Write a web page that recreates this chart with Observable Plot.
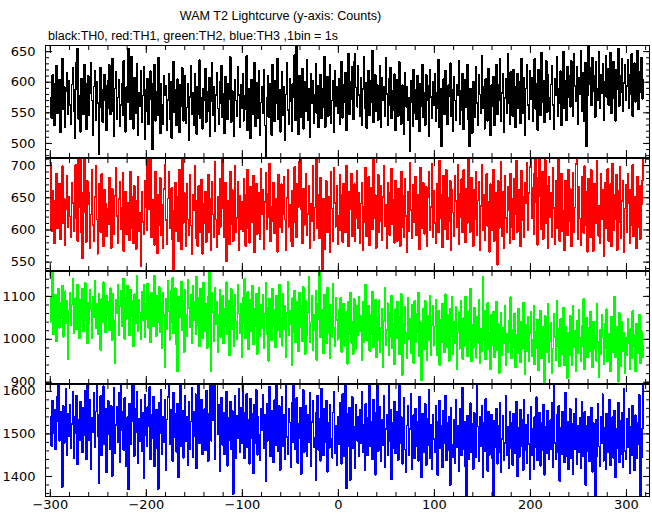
<!DOCTYPE html>
<html><head><meta charset="utf-8">
<script src="https://cdn.jsdelivr.net/npm/d3@7"></script>
<script src="https://cdn.jsdelivr.net/npm/@observablehq/plot@0.6"></script>
<style>
html,body{margin:0;padding:0;background:#fff;}
#wrap{position:relative;width:652px;height:515px;overflow:hidden;background:#fff;}
#title{position:absolute;left:80px;width:401px;top:10px;text-align:center;font-family:"Liberation Sans",Arial,sans-serif;font-size:12.6px;line-height:12.6px;color:#000;white-space:nowrap;}
#subtitle{position:absolute;left:48px;top:29.5px;font-family:"Liberation Sans",Arial,sans-serif;font-size:12.5px;line-height:12.5px;color:#000;white-space:nowrap;}
#panels{position:absolute;left:0;top:45px;width:652px;}
#panels svg{display:block;position:absolute;left:0;background:none!important;overflow:visible!important;}
</style></head>
<body><div id="wrap">
<div id="title">WAM T2 Lightcurve (y-axis: Counts)</div>
<div id="subtitle">black:TH0, red:TH1, green:TH2, blue:TH3 ,1bin = 1s</div>
<div id="panels"></div>
</div>
<script>
// time of the first 1-s bin
const startTime = -300;

// TH0 (black) counts per 1-s bin
const th0 = [
575,541,612,598,530,566,627,549,583,604,518,571,639,556,592,527,585,615,548,602,
563,531,596,624,552,509,588,633,655,540,577,519,606,584,548,629,561,523,597,610,
546,582,631,570,514,593,618,538,601,566,482,559,624,587,535,571,612,594,521,558,
603,628,547,581,639,553,512,590,617,539,575,604,528,563,598,546,635,580,519,592,
567,655,611,539,642,586,524,608,573,549,630,514,583,561,619,535,578,626,507,588,
552,606,531,572,618,597,490,565,629,537,584,546,640,575,516,597,563,532,611,579,
594,522,571,613,540,601,509,568,634,551,587,529,605,568,518,596,561,623,537,580,
610,533,559,598,505,576,627,547,583,530,614,562,515,593,548,636,541,575,524,589,
571,622,535,584,553,608,511,569,631,546,592,520,579,615,557,532,601,566,627,543,
581,516,609,568,539,597,573,641,535,586,552,512,604,570,544,625,579,527,596,558,
614,537,578,556,643,521,590,566,509,604,547,583,632,528,572,599,541,618,513,567,
592,550,621,529,479,575,611,543,597,560,514,628,581,536,602,565,638,540,588,519,
571,617,546,593,506,580,632,555,532,606,569,520,597,576,644,538,665,561,515,610,
585,543,622,524,577,601,552,637,538,589,510,614,566,603,533,579,630,549,594,526,
573,612,541,590,559,642,527,581,609,545,586,628,533,570,603,519,618,561,593,549,
605,531,578,634,542,596,567,615,522,584,646,548,601,573,625,539,634,647,591,560,
627,579,544,608,530,589,641,557,599,525,575,619,546,603,568,652,535,584,612,553,
596,538,574,627,526,607,570,592,544,640,581,529,605,563,624,541,586,555,613,521,
578,604,545,633,569,532,595,582,515,616,560,593,538,574,487,602,567,528,621,550,
587,539,611,572,520,598,561,629,543,583,530,612,571,594,512,620,576,542,600,563,
614,537,582,558,637,526,590,495,574,605,548,619,569,531,595,577,631,545,587,520,
609,570,538,596,579,635,532,586,554,614,523,575,604,559,628,540,495,590,563,517,
601,576,543,626,566,529,612,580,549,643,558,593,524,605,571,537,622,578,513,595,
561,609,530,585,629,547,596,570,638,536,582,613,518,574,606,550,647,566,532,617,
577,545,621,592,526,571,614,558,601,533,639,581,550,607,514,590,628,563,539,619,
572,608,537,583,638,556,597,522,620,579,546,648,567,603,534,588,635,551,612,574,
540,596,627,563,524,606,579,641,545,590,566,618,530,583,650,557,603,538,626,575,
611,560,635,588,544,646,594,569,625,531,607,580,652,553,615,589,536,632,495,578,
665,597,624,562,640,585,611,543,633,590,570,649,557,612,582,630,538,601,643,576,
622,563,598,648,549,606,634,574,537,620,589,655,561,611,583,639,552,599,628,570,
594,637,558,612,580,646,545,603,631,568,590,652,556,617,584,640,573,605
];

// TH1 (red)
const th1 = [
705,598,661,627,579,646,688,603,637,672,585,620,699,611,648,576,633,684,604,652,
621,589,673,642,598,667,701,617,583,718,635,715,596,556,658,712,628,581,676,640,
657,571,624,694,608,583,651,699,616,563,640,672,597,687,625,574,662,641,590,633,
609,681,645,572,664,618,594,653,697,622,579,648,675,601,634,689,567,628,660,593,
642,617,584,691,603,651,579,668,625,570,646,683,598,627,543,659,612,594,677,636,
600,716,632,675,714,588,647,619,577,690,626,564,655,608,681,592,639,571,664,702,
615,578,649,690,603,637,665,584,535,630,674,598,652,582,693,622,570,715,611,658,
639,574,671,616,592,685,607,562,654,630,699,587,645,575,668,623,596,678,563,641,
610,660,581,633,686,597,648,569,675,624,588,706,616,573,652,594,680,605,638,716,
634,589,673,551,646,621,578,691,609,662,583,637,700,596,619,675,568,653,601,644,
598,679,622,575,656,694,603,580,667,631,612,684,565,640,672,593,627,658,586,695,
625,662,570,643,689,601,619,657,703,582,636,614,673,595,648,609,566,686,631,604,
671,597,624,682,616,568,650,693,605,639,582,661,574,627,698,611,589,672,636,706,
716,632,579,664,608,647,687,592,625,668,571,640,613,699,584,635,678,714,602,655,
587,681,614,535,648,570,627,676,596,652,619,566,690,633,583,697,642,605,668,578,
622,685,599,654,581,672,628,596,700,615,575,659,632,688,590,645,671,583,618,692,
603,657,579,641,674,568,636,612,697,590,649,682,576,624,665,601,709,618,654,572,
628,686,597,613,668,584,651,700,606,639,571,674,620,592,659,695,609,647,580,677,
616,583,664,640,575,691,605,653,588,679,622,566,660,598,704,631,587,670,612,648,
683,592,655,621,570,697,603,645,673,594,628,667,574,651,690,599,636,702,588,661,
611,579,672,637,596,708,618,655,573,684,640,601,693,585,650,613,676,569,662,627,
590,684,645,604,701,578,656,620,679,596,693,633,581,664,611,717,648,597,681,623,
575,662,617,690,592,646,675,568,637,701,600,655,584,628,687,606,644,566,671,599,
640,694,583,622,658,546,676,603,641,706,590,660,572,684,619,597,667,631,579,688,
604,648,585,679,625,708,597,663,636,574,692,615,652,588,673,641,704,599,657,698,
714,618,666,593,689,718,642,577,681,713,652,601,690,586,638,709,611,668,572,683,
620,657,589,697,634,578,676,602,651,710,583,646,688,598,630,569,677,640,592,694,
613,664,574,649,689,597,635,702,716,585,667,618,576,682,628,595,699,607,660,566,
679,622,588,693,641,567,672,610,655,708,591,637,580,687,616,663,559,674,603,648,
695,583,639,671,575,703,600,654,617,686,569,661,612,698,587,645,676,566,633,670,
597,688,642,579,663,608,701,590,651,625,572,683,604,669,586,640,677,712
];

// TH2 (green)
const th2 = [
1041,1098,1160,1012,1075,1103,996,1062,1118,1027,1084,1049,1125,1006,1071,1112,1038,1090,954,1067,
1109,1032,1081,1140,1015,1058,1097,1023,1128,1064,1002,1093,1046,1117,1019,1079,1131,1044,990,1086,
1035,1115,1070,1003,1099,1052,1136,1025,1083,1011,1106,1058,975,1094,1040,1133,1068,1017,1101,1055,
1088,1021,1119,1065,998,1107,1043,945,1092,1060,1128,1009,1077,1114,1030,1069,1142,1000,1096,1048,
1124,1071,1010,1116,1054,1089,984,1105,1036,1078,1147,1019,1093,1062,1001,1111,1044,1127,1005,1082,
1047,1130,1026,1098,993,1108,1063,1031,1149,1072,1008,1101,1039,1122,1017,1085,979,1109,1056,934,
1095,1024,1137,1066,999,1112,1040,1143,1014,1081,1119,988,925,1100,1050,1076,1134,1021,1090,970,
1116,1058,1007,1139,1073,1029,1104,991,1125,1045,1087,1012,1146,1034,1096,983,1118,1061,1002,1131,
1018,1084,1052,980,1099,1160,1029,925,1108,1064,996,1121,1035,1087,970,1058,1115,1006,1049,1101,
991,1070,1031,1133,1012,1089,962,1054,1117,1023,1079,984,1104,1041,1000,1126,1060,1015,1083,958,
1097,1037,1141,1002,1066,1110,977,1048,1093,1019,1124,989,1072,1030,1107,966,1056,1119,1008,1081,
1026,1103,979,1059,1132,1013,1074,950,1095,1042,997,1118,1033,1068,982,1101,1020,1085,1128,1004,
1050,985,1106,1023,1079,958,1061,1135,1010,1067,1036,940,1097,1016,1114,993,1052,1088,972,1109,
1028,1077,995,1122,1044,966,1090,1009,1063,1145,994,1039,1101,975,1058,1021,1113,952,1047,1084,
1160,1005,1069,1031,968,1104,1037,990,1120,1014,1081,955,1052,1006,1130,1027,983,1096,1045,999,
1068,1004,1097,970,1046,1083,985,1029,1064,943,1088,1011,1109,992,1041,966,1095,1032,978,1077,
1009,1100,1019,1055,951,1087,994,1040,1128,997,1031,1079,973,1058,1012,1110,982,1036,1093,958,
1050,999,1091,970,1027,1072,936,1043,1119,987,1021,1084,962,1061,1006,1102,979,1037,942,1070,
1003,1088,1022,965,1052,1106,917,1035,990,1075,1014,956,1097,1001,1048,968,1080,1025,945,1089,
994,1059,1016,1108,960,1040,904,1001,1071,976,1090,1019,951,1054,997,1102,963,1033,1079,985,
1030,1093,962,1011,1067,940,1045,993,1083,1018,970,1105,1026,981,1058,949,1072,1007,1098,966,
1041,990,1076,931,1016,1063,978,1089,1002,954,1049,985,1099,1012,961,1065,997,1118,948,1034,
980,1074,1005,957,1052,992,1091,944,1025,971,1145,999,1066,953,1039,1085,976,1014,930,1058,
986,1065,958,1019,1088,975,1036,921,1003,1061,962,1027,990,1077,939,1012,970,1044,996,1098,
955,1023,981,1059,934,1010,968,1072,993,946,1040,977,1086,1001,918,1033,972,1052,950,1015,
1063,960,1000,1079,941,1018,980,1046,928,1005,1067,955,1030,987,895,1054,969,1011,1082,947,
995,1038,922,979,1060,1006,951,1089,984,1025,937,1047,966,1002,1073,940,1030,976,910,1016,
962,1055,998,940,1078,981,1020,925,1044,967,1069,1003,948,1031,985,1094,930,1009,1051,958,
1026,971,1064,992,935,1041,977,1008,950,1083,994,912,1023,965,1057,1004,941,1035,980,1070,
948,1012,987,925,1052,969,1003,1099,958,1029,982,901,1061,996,938,1040,973,1016,920,1004,
963,1047,990,931,1024,955,1066,984,1011,926,1037,968,999,1058,944,1019,986,957
];

// TH3 (blue)
const th3 = [
1540,1472,1578,1501,1556,1463,1529,1587,1620,1484,1552,1510,1375,1566,1479,1538,1607,1451,1547,1495,
1568,1466,1523,1599,1443,1541,1502,1590,1428,1533,1485,1575,1514,1456,1561,1497,1601,1440,1620,1528,
1486,1580,1418,1537,1505,1596,1469,1553,1620,1494,1384,1546,1589,1449,1524,1612,1476,1560,1410,1531,
1577,1499,1464,1566,1401,1542,1608,1455,1521,1563,1480,1597,1434,1620,1508,1551,1462,1584,1493,1424,
1539,1369,1571,1476,1530,1615,1620,1448,1559,1503,1598,1431,1535,1482,1579,1459,1550,1395,1592,1498,
1471,1563,1517,1610,1440,1545,1490,1588,1423,1520,1556,1466,1371,1573,1502,1604,1452,1541,1481,1579,
1414,1534,1586,1620,1475,1557,1500,1436,1597,1493,1548,1458,1570,1398,1525,1613,1470,1555,1444,1518,
1589,1483,1540,1427,1576,1465,1529,1609,1446,1552,1494,1593,1419,1562,1620,1478,1536,1580,1452,1521,
1558,1461,1602,1497,1436,1547,1620,1484,1620,1532,1618,1441,1620,1617,1499,1568,1412,1530,1585,1474,
1549,1452,1520,1600,1425,1537,1486,1576,1463,1554,1358,1526,1589,1444,1543,1491,1606,1458,1561,1477,
1620,1503,1442,1551,1594,1469,1533,1430,1582,1490,1548,1407,1569,1478,1603,1451,1540,1497,1439,1560,
1509,1591,1466,1545,1388,1571,1484,1530,1611,1447,1555,1492,1433,1579,1474,1620,1538,1459,1566,1415,
1500,1587,1470,1546,1441,1614,1493,1453,1558,1527,1421,1573,1481,1620,1542,1463,1584,1432,1523,1489,
1562,1406,1531,1603,1457,1498,1566,1447,1545,1480,1596,1424,1528,1577,1468,1492,1391,1551,1590,1462,
1535,1437,1607,1495,1450,1559,1480,1578,1411,1526,1466,1569,1488,1444,1550,1598,1455,1520,1427,1541,
1475,1574,1529,1430,1594,1491,1448,1620,1373,1548,1471,1562,1392,1533,1587,1466,1517,1419,1568,1484,
1541,1447,1557,1478,1600,1458,1522,1415,1571,1487,1450,1538,1620,1471,1529,1440,1580,1483,1404,1549,
1620,1460,1519,1563,1435,1533,1474,1590,1422,1512,1545,1449,1620,1482,1556,1393,1527,1467,1575,1454,
1517,1553,1439,1617,1477,1540,1430,1524,1585,1463,1410,1520,1566,1451,1511,1595,1416,1480,1544,1442,
1559,1470,1528,1437,1588,1485,1399,1547,1457,1516,1570,1426,1535,1473,1603,1444,1521,1418,1546,1488,
1456,1565,1480,1403,1530,1578,1466,1518,1421,1555,1479,1589,1438,1525,1461,1541,1380,1562,1474,1445,
1532,1432,1580,1469,1520,1413,1558,1482,1449,1609,1463,1529,1424,1350,1543,1441,1512,1572,1457,1523,
1418,1549,1478,1446,1620,1517,1436,1540,1471,1566,1398,1526,1460,1583,1481,1413,1552,1451,1510,1545,
1443,1350,1531,1469,1560,1430,1520,1458,1573,1409,1488,1542,1439,1478,1590,1450,1516,1419,1553,1466,
1525,1427,1548,1455,1483,1576,1400,1514,1446,1557,1470,1532,1415,1581,1461,1521,1431,1545,1476,1394,
1564,1451,1512,1417,1539,1468,1586,1438,1480,1550,1425,1527,1462,1569,1404,1517,1454,1555,1474,1440,
1532,1465,1574,1422,1620,1478,1441,1545,1457,1565,1389,1515,1452,1553,1472,1434,1597,1447,1528,1416,
1481,1559,1442,1524,1406,1547,1463,1582,1428,1519,1456,1538,1420,1576,1473,1447,1551,1380,1518,1459,
1540,1436,1476,1562,1411,1526,1465,1350,1533,1448,1570,1470,1425,1539,1478,1593,1437,1515,1417,1548,
1457,1522,1581,1426,1475,1539,1444,1555,1398,1512,1467,1574,1433,1530,1452,1549,1422,1607,1460,1440,
1535,1468,1558,1407,1516,1449,1567,1463,1415,1544,1442,1526,1476,1591,1350,1445,1513,1620
];

const seriesNames = ["TH0", "TH1", "TH2", "TH3"];
const seriesColors = ["#000000", "#ff0000", "#00ff00", "#0000ff"];
const xDomain = [-305, 324];
const xTickLabels = [-300, -200, -100, 0, 100, 200, 300];
const yDomains = [[477, 660], [537, 711], [897, 1158], [1353, 1616]];
const yMinorSteps = [10, 10, 20, 20];
const yMajorSteps = [50, 50, 100, 100];

const series = [th0, th1, th2, th3];
const xMinor = d3.range(-300, 321, 20);
const xMajor = xMinor.filter(v => v % 100 === 0);
const font = "DejaVu Sans";
const panelsEl = document.getElementById("panels");

function ticksOnly(axisFn, anchor, ticks, size) {
  return axisFn({anchor, ticks, tickSize: -size, fill: "none", stroke: "black", label: null});
}

series.forEach((vals, i) => {
  const data = vals.map((v, k) => ({t: startTime + k, v, s: seriesNames[i]}));
  const [lo, hi] = yDomains[i];
  const st = yMinorSteps[i];
  const yMinor = d3.range(Math.ceil(lo / st) * st, hi + 1e-9, st);
  const yMajor = yMinor.filter(v => v % yMajorSteps[i] === 0);
  const last = i === series.length - 1;
  const h = last ? 131 : 113;
  const marks = [
    Plot.line(data, {x: "t", y: "v", stroke: seriesColors[i], strokeWidth: 1.6, curve: "step-after", clip: true, shapeRendering: "crispEdges"}),
    Plot.frame({stroke: "black", strokeWidth: 1}),
    ticksOnly(Plot.axisX, "top", xMinor, 4),
    ticksOnly(Plot.axisX, "bottom", xMinor, 4),
    ticksOnly(Plot.axisX, "top", xMajor, 7),
    ticksOnly(Plot.axisX, "bottom", xMajor, 7),
    ticksOnly(Plot.axisY, "left", yMinor, 4),
    ticksOnly(Plot.axisY, "right", yMinor, 4),
    ticksOnly(Plot.axisY, "left", yMajor, 7),
    ticksOnly(Plot.axisY, "right", yMajor, 7),
    Plot.axisY({anchor: "left", ticks: yMajor, tickSize: 0, tickPadding: 10, label: null, fill: "black", fontSize: 13, fontFamily: font, tickFormat: d => String(d)})
  ];
  if (last) {
    marks.push(Plot.axisX({anchor: "bottom", ticks: xTickLabels, tickSize: 0, tickPadding: 3, label: null, fill: "black", fontSize: 13, fontFamily: font}));
  }
  const svg = Plot.plot({
    width: 652, height: h,
    marginLeft: 45, marginRight: 3, marginTop: 0, marginBottom: last ? 19 : 1,
    style: {fontFamily: font, fontSize: "13px", background: "none", overflow: "visible"},
    x: {domain: xDomain},
    y: {domain: yDomains[i]},
    marks
  });
  svg.style.top = (113 * i) + "px";
  panelsEl.appendChild(svg);
});
</script>
</body></html>
